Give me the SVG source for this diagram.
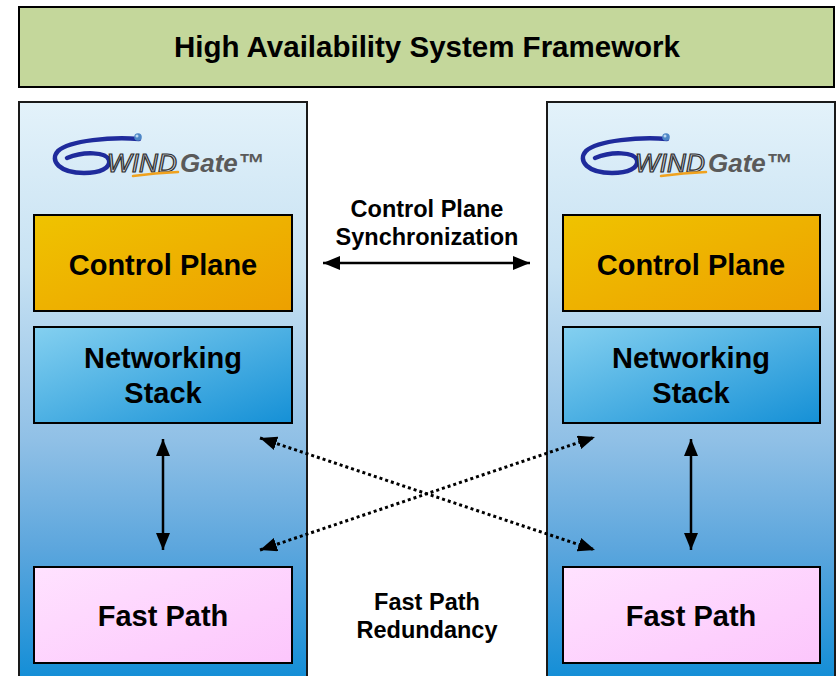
<svg xmlns="http://www.w3.org/2000/svg" width="836" height="676" viewBox="0 0 836 676">
  <defs>
    <linearGradient id="colGrad" gradientUnits="userSpaceOnUse" x1="0" y1="102" x2="0" y2="690">
      <stop offset="0" stop-color="#e3f2fa"/>
      <stop offset="0.28" stop-color="#c8e2f3"/>
      <stop offset="0.575" stop-color="#90c0e6"/>
      <stop offset="0.76" stop-color="#5ca6dd"/>
      <stop offset="1" stop-color="#0d8cd6"/>
    </linearGradient>
    <linearGradient id="cpGrad" x1="0" y1="0" x2="1" y2="1">
      <stop offset="0" stop-color="#efc300"/>
      <stop offset="1" stop-color="#eda000"/>
    </linearGradient>
    <linearGradient id="nsGrad" x1="0" y1="0" x2="1" y2="1">
      <stop offset="0" stop-color="#84d0f0"/>
      <stop offset="1" stop-color="#1590d6"/>
    </linearGradient>
    <linearGradient id="fpGrad" x1="0" y1="0" x2="1" y2="1">
      <stop offset="0" stop-color="#ffe2ff"/>
      <stop offset="1" stop-color="#fcc6fc"/>
    </linearGradient>
    <marker id="arrow" markerUnits="userSpaceOnUse" markerWidth="18" markerHeight="14" viewBox="0 0 18 14" refX="17" refY="7" orient="auto-start-reverse">
      <path d="M0,0 L17,7 L0,14 Z" fill="#000"/>
    </marker>
    <g id="logo">
      <path d="M139,139 C112,137 70,140 58,151 C49,161 60,173 84,173 C100,173 111,168 109,160 C106,152 84,151 67,158" fill="none" stroke="#1f2b9c" stroke-width="4.5" stroke-linecap="round"/>
      <circle cx="138" cy="137" r="3.8" fill="#4d86c6"/>
      <circle cx="137" cy="136" r="1.5" fill="#b9d6f0"/>
      <text x="107" y="172" class="wind" textLength="70" lengthAdjust="spacingAndGlyphs">WIND</text>
      <path d="M133,176 Q155,173 178,172" fill="none" stroke="#f0a21e" stroke-width="2.5" stroke-linecap="round"/>
      <text x="180" y="172" class="gate">Gate™</text>
    </g>
  </defs>
  <style>
    .box { stroke: #000; stroke-width: 2; }
    .col { fill: url(#colGrad); stroke: #1a1a1a; stroke-width: 2; }
    .lbl { font-family: "Liberation Sans", Arial, sans-serif; font-weight: bold; fill: #000; text-anchor: middle; }
    .big { font-size: 29px; }
    .title { font-size: 29.5px; }
    .small { font-size: 23.5px; }
    .wind { font-family: "Liberation Sans", Arial, sans-serif; font-style: italic; font-size: 25px; fill: #c9cfd8; stroke: #303030; stroke-width: 1.2; }
    .gate { font-family: "Liberation Sans", Arial, sans-serif; font-style: italic; font-weight: bold; font-size: 26px; fill: #5a5a5a; }
    .solid { stroke: #000; stroke-width: 2.5; fill: none; }
    .dotted { stroke: #000; stroke-width: 3; fill: none; stroke-dasharray: 3 3; }
  </style>

  <rect width="836" height="676" fill="#fff"/>

  <g id="title">
    <rect x="19" y="7" width="815" height="80" fill="#c4d79b" class="box"/>
    <text x="427" y="57" class="lbl title">High Availability System Framework</text>
  </g>

  <g id="left-node">
    <rect x="19" y="102" width="288" height="600" class="col"/>
    <use href="#logo"/>
    <g id="left-control-plane">
      <rect x="34" y="215" width="258" height="96" fill="url(#cpGrad)" class="box"/>
      <text x="163" y="275" class="lbl big">Control Plane</text>
    </g>
    <g id="left-networking-stack">
      <rect x="34" y="327" width="258" height="96" fill="url(#nsGrad)" class="box"/>
      <text x="163" y="368" class="lbl big">Networking</text>
      <text x="163" y="403" class="lbl big">Stack</text>
    </g>
    <g id="left-fast-path">
      <rect x="34" y="567" width="258" height="96" fill="url(#fpGrad)" class="box"/>
      <text x="163" y="626" class="lbl big">Fast Path</text>
    </g>
  </g>

  <g id="right-node">
    <rect x="547" y="102" width="288" height="600" class="col"/>
    <use href="#logo" transform="translate(528,0)"/>
    <g id="right-control-plane">
      <rect x="563" y="215" width="257" height="96" fill="url(#cpGrad)" class="box"/>
      <text x="691" y="275" class="lbl big">Control Plane</text>
    </g>
    <g id="right-networking-stack">
      <rect x="563" y="327" width="257" height="96" fill="url(#nsGrad)" class="box"/>
      <text x="691" y="368" class="lbl big">Networking</text>
      <text x="691" y="403" class="lbl big">Stack</text>
    </g>
    <g id="right-fast-path">
      <rect x="563" y="567" width="257" height="96" fill="url(#fpGrad)" class="box"/>
      <text x="691" y="626" class="lbl big">Fast Path</text>
    </g>
  </g>

  <g id="connectors">
    <line x1="323" y1="263" x2="530" y2="263" class="solid" marker-start="url(#arrow)" marker-end="url(#arrow)"/>
    <line x1="163" y1="439" x2="163" y2="550" class="solid" marker-start="url(#arrow)" marker-end="url(#arrow)"/>
    <line x1="691" y1="439" x2="691" y2="550" class="solid" marker-start="url(#arrow)" marker-end="url(#arrow)"/>
    <line x1="260" y1="438" x2="595" y2="550" class="dotted" marker-start="url(#arrow)" marker-end="url(#arrow)"/>
    <line x1="260" y1="550" x2="595" y2="437" class="dotted" marker-start="url(#arrow)" marker-end="url(#arrow)"/>
  </g>

  <g id="labels">
    <text x="427" y="217" class="lbl small">Control Plane</text>
    <text x="427" y="245" class="lbl small">Synchronization</text>
    <text x="427" y="610" class="lbl small">Fast Path</text>
    <text x="427" y="638" class="lbl small">Redundancy</text>
  </g>
</svg>
